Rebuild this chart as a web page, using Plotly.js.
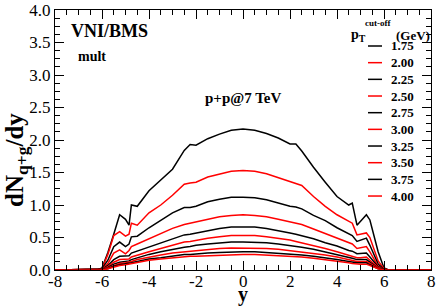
<!DOCTYPE html>
<html>
<head>
<meta charset="utf-8">
<script src="https://cdn.plot.ly/plotly-3.0.1.min.js"></script>
<style>html,body{margin:0;padding:0;background:#fff;}#chart{width:436px;height:306px;}</style>
</head>
<body>
<div id="chart"></div>
<script>
// rapidity grid
const rapidity = [-8, -6.2, -6.0, -5.75, -5.5, -5.25, -5.0, -4.85, -4.75, -4.5, -4.0, -3.5, -3.0, -2.5, -2.25, -2.0, -1.5, -1.0, -0.5, 0, 0.5, 1.0, 1.5, 2.0, 2.25, 2.5, 3.0, 3.5, 4.0, 4.5, 4.65, 4.85, 5.0, 5.25, 5.4, 5.75, 6.0, 6.2, 8];

// dN_{q+g}/dy for each pT cut-off
const dN_175 = [0,0,0.03,0.27,0.55,0.85,0.78,0.69,1.00,0.98,1.22,1.38,1.55,1.84,1.93,1.92,2.02,2.09,2.15,2.17,2.15,2.10,2.03,1.94,1.94,1.83,1.58,1.35,1.13,1.00,1.03,0.69,0.75,0.85,0.77,0.28,0.03,0,0];
const dN_200 = [0,0,0.02,0.24,0.53,0.59,0.52,0.55,0.72,0.69,0.88,1.00,1.15,1.32,1.34,1.35,1.43,1.48,1.52,1.53,1.52,1.48,1.42,1.36,1.34,1.30,1.13,0.98,0.85,0.74,0.72,0.54,0.55,0.57,0.50,0.14,0.02,0,0];
const dN_225 = [0,0,0.02,0.15,0.36,0.43,0.36,0.40,0.51,0.52,0.65,0.76,0.88,0.96,0.96,0.98,1.05,1.09,1.12,1.12,1.11,1.08,1.03,0.98,0.97,0.94,0.84,0.76,0.65,0.56,0.53,0.44,0.46,0.49,0.38,0.09,0.01,0,0];
const dN_250 = [0,0,0.01,0.10,0.26,0.31,0.25,0.30,0.36,0.40,0.48,0.55,0.64,0.70,0.72,0.74,0.79,0.82,0.84,0.85,0.84,0.82,0.78,0.74,0.72,0.70,0.63,0.56,0.50,0.42,0.40,0.33,0.34,0.36,0.28,0.06,0.01,0,0];
const dN_275 = [0,0,0.01,0.07,0.16,0.21,0.21,0.22,0.26,0.29,0.36,0.42,0.48,0.54,0.55,0.57,0.61,0.64,0.66,0.66,0.66,0.64,0.61,0.57,0.55,0.53,0.48,0.42,0.37,0.30,0.29,0.25,0.25,0.26,0.20,0.05,0.01,0,0];
const dN_300 = [0,0,0.01,0.05,0.12,0.16,0.16,0.17,0.20,0.23,0.28,0.33,0.38,0.43,0.44,0.46,0.49,0.51,0.53,0.53,0.53,0.51,0.49,0.46,0.44,0.42,0.38,0.33,0.28,0.23,0.22,0.19,0.19,0.20,0.15,0.04,0.01,0,0];
const dN_325 = [0,0,0.01,0.04,0.09,0.12,0.13,0.14,0.16,0.19,0.24,0.28,0.32,0.35,0.36,0.38,0.40,0.42,0.43,0.43,0.43,0.42,0.40,0.38,0.36,0.35,0.32,0.28,0.24,0.19,0.18,0.16,0.16,0.16,0.12,0.03,0.01,0,0];
const dN_350 = [0,0,0.01,0.03,0.07,0.10,0.11,0.12,0.13,0.16,0.20,0.23,0.26,0.28,0.29,0.30,0.32,0.33,0.34,0.34,0.34,0.33,0.32,0.30,0.29,0.28,0.26,0.23,0.20,0.16,0.15,0.13,0.13,0.13,0.10,0.03,0.01,0,0];
const dN_375 = [0,0,0.01,0.02,0.06,0.08,0.09,0.10,0.11,0.13,0.17,0.19,0.22,0.24,0.24,0.25,0.26,0.27,0.28,0.28,0.28,0.27,0.26,0.25,0.24,0.23,0.21,0.19,0.16,0.13,0.12,0.11,0.11,0.11,0.08,0.02,0.01,0,0];
const dN_400 = [0,0,0,0.02,0.05,0.07,0.08,0.09,0.10,0.11,0.15,0.17,0.19,0.20,0.21,0.21,0.22,0.23,0.24,0.24,0.24,0.23,0.22,0.21,0.21,0.20,0.18,0.16,0.14,0.11,0.10,0.09,0.09,0.09,0.07,0.02,0,0,0];

const ptCutLabels = ['1.75','2.00','2.25','2.50','2.75','3.00','3.25','3.50','3.75','4.00'];
const seriesList = [dN_175, dN_200, dN_225, dN_250, dN_275, dN_300, dN_325, dN_350, dN_375, dN_400];

const xTickVals = [-8,-6,-4,-2,0,2,4,6,8];
const xTickText = ['-8','-6','-4','-2','0','2','4','6','8'];

const FONT = 'Liberation Serif';
const colorFor = i => (i % 2 === 0 ? '#000000' : '#ff0000');

const traces = seriesList.map((s, i) => ({
  x: rapidity, y: s, mode: 'lines', name: ptCutLabels[i],
  line: {color: colorFor(i), width: 1.5}, hoverinfo: 'skip'
}));

// plot geometry (pixels) for placing texts and the hand-made legend
const L = 55, T = 10, W = 376, H = 260;
const px2x = px => (px - L) / W;
const py2y = py => (T + H - py) / H;

const annotations = [
  {text: '<b>VNI/BMS</b>', x: px2x(69), y: py2y(31), xanchor: 'left', yanchor: 'middle', font: {family: FONT, size: 18, color: '#000'}},
  {text: '<b>mult</b>', x: px2x(76), y: py2y(56), xanchor: 'left', yanchor: 'middle', font: {family: FONT, size: 14, color: '#000'}},
  {text: '<b>p+p@7 TeV</b>', x: px2x(243), y: py2y(98), xanchor: 'center', yanchor: 'middle', font: {family: FONT, size: 15, color: '#000'}},
  {text: '<b>p<sub>T</sub></b>', x: px2x(349), y: py2y(36), xanchor: 'left', yanchor: 'middle', font: {family: FONT, size: 14, color: '#000'}},
  {text: '<b>cut-off</b>', x: px2x(363), y: py2y(23), xanchor: 'left', yanchor: 'middle', font: {family: FONT, size: 9, color: '#000'}},
  {text: '<b>(GeV)</b>', x: px2x(394), y: py2y(35), xanchor: 'left', yanchor: 'middle', font: {family: FONT, size: 13, color: '#000'}},
  // axis titles
  {text: '<b>y</b>', x: px2x(243), y: py2y(294), xanchor: 'center', yanchor: 'middle', font: {family: FONT, size: 20, color: '#000'}},
  {text: '<b>dN<sub>q+g</sub>/dy</b>', x: px2x(16), y: py2y(160), xanchor: 'center', yanchor: 'middle', textangle: -90, font: {family: FONT, size: 25, color: '#000'}}
];
// x tick labels placed just under the axis line
xTickVals.forEach((v, i) => {
  annotations.push({text: xTickText[i], xref: 'x', x: v, y: py2y(281), xanchor: 'center', yanchor: 'middle',
    font: {family: FONT, size: 17, color: '#000'}});
});
const shapes = [];
ptCutLabels.forEach((lab, i) => {
  const py = 46 + i * 16.67;
  annotations.push({text: '<b>' + lab + '</b>', x: px2x(389), y: py2y(py), xanchor: 'left', yanchor: 'middle',
    font: {family: FONT, size: 13, color: '#000'}});
  shapes.push({type: 'line', xref: 'paper', yref: 'paper', x0: px2x(368), x1: px2x(382), y0: py2y(py), y1: py2y(py),
    line: {color: colorFor(i), width: 1.5}});
});
annotations.forEach(a => { if (!a.xref) a.xref = 'paper'; a.yref = 'paper'; a.showarrow = false; });

const axisCommon = {
  showgrid: false, zeroline: false, showline: true, linecolor: '#000', linewidth: 1,
  mirror: 'allticks', ticks: 'inside', ticklen: 9, tickwidth: 1, tickcolor: '#000',
  tickfont: {family: FONT, size: 17, color: '#000'}
};

const layout = {
  width: 436, height: 306,
  margin: {l: L, r: 436 - L - W, t: T, b: 306 - T - H},
  paper_bgcolor: '#fff', plot_bgcolor: '#fff',
  showlegend: false,
  font: {family: FONT, color: '#000'},
  xaxis: Object.assign({}, axisCommon, {
    range: [-8, 8], tickmode: 'array', tickvals: xTickVals, ticktext: xTickText, showticklabels: false,
    minor: {tick0: -8, dtick: 0.5, ticks: 'inside', ticklen: 5, tickwidth: 1, tickcolor: '#000', showgrid: false}
  }),
  yaxis: Object.assign({}, axisCommon, {
    range: [0, 4], tick0: 0, dtick: 0.5, tickformat: '.1f',
    minor: {tick0: 0, dtick: 0.125, ticks: 'inside', ticklen: 5, tickwidth: 1, tickcolor: '#000', showgrid: false}
  }),
  annotations: annotations,
  shapes: shapes
};

Plotly.newPlot('chart', traces, layout, {staticPlot: true, displayModeBar: false});
</script>
</body>
</html>
